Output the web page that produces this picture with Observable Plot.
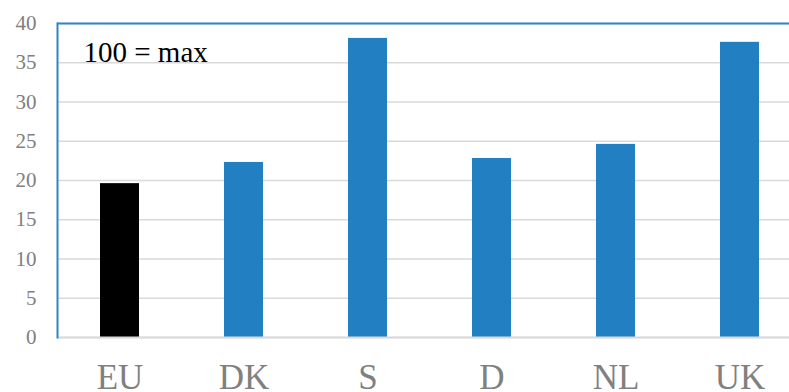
<!DOCTYPE html>
<html>
<head>
<meta charset="utf-8">
<script src="https://cdn.jsdelivr.net/npm/d3@7"></script>
<script src="https://cdn.jsdelivr.net/npm/@observablehq/plot@0.6"></script>
<style>
  html, body { margin: 0; padding: 0; background: #fff; overflow: hidden; }
</style>
</head>
<body>
<div id="chart"></div>
<script>
const countries = ["EU", "DK", "S", "D", "NL", "UK"];
const values = [19.6, 22.3, 38.1, 22.8, 24.6, 37.6];
const barColors = ["#000000", "#2280c2", "#2280c2", "#2280c2", "#2280c2", "#2280c2"];
const yTicks = [0, 5, 10, 15, 20, 25, 30, 35, 40];
const note = "100 = max";

const data = countries.map((c, i) => ({country: c, value: values[i], color: barColors[i]}));
const serif = "Liberation Serif, Times New Roman, Times, serif";
const frameBlue = "#2f86c6";

const chart = Plot.plot({
  width: 789,
  height: 392,
  marginLeft: 57,
  marginRight: 0,
  marginTop: 23,
  marginBottom: 55,
  style: {fontFamily: serif, background: "#fff"},
  x: {domain: countries, range: [57.5, 801.5], paddingInner: 0.685, paddingOuter: 0.3425, label: null},
  y: {domain: [0, 40], label: null},
  marks: [
    Plot.gridY(yTicks, {stroke: "#d9d9d9", strokeOpacity: 1, strokeWidth: 1.6}),
    Plot.barY(data, {x: "country", y: "value", fill: "color"}),
    Plot.ruleY([0], {stroke: "#d9d9d9", strokeWidth: 2}),
    Plot.ruleY([40], {stroke: frameBlue, strokeWidth: 2}),
    Plot.frame({anchor: "left", stroke: frameBlue, strokeWidth: 2}),
    Plot.axisY(yTicks, {label: null, tickSize: 0, tickPadding: 21, fontSize: 21, fill: "#808080", fontFamily: serif}),
    Plot.axisX({label: null, tickSize: 0, tickPadding: 27, fontSize: 35, fill: "#808080", fontFamily: serif}),
    Plot.text([note], {frameAnchor: "top-left", textAnchor: "start", lineAnchor: "top", dx: 26, dy: 18, fontSize: 29, fill: "#000", fontFamily: serif})
  ]
});
document.getElementById("chart").appendChild(chart);
</script>
</body>
</html>
